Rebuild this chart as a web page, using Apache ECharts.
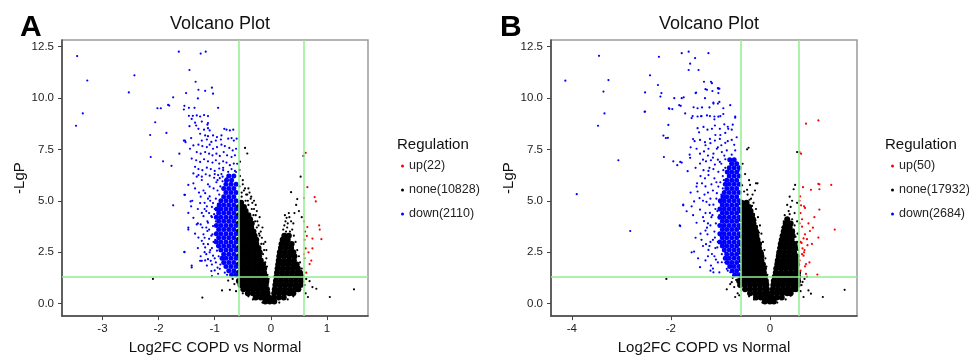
<!DOCTYPE html>
<html><head><meta charset="utf-8">
<script src="https://cdn.jsdelivr.net/npm/echarts@6/dist/echarts.min.js"></script>
<style>html,body{margin:0;padding:0;background:#fff}#c{width:969px;height:360px}</style>
</head><body><div id="c"></div>
<script>
// ---------- tick labels / thresholds ----------
const yTicks = [0, 2.5, 5, 7.5, 10, 12.5];
const xTicksA = [-3, -2, -1, 0, 1];
const xTicksB = [-4, -2, 0];
const fcCut = 0.585;   // log2(1.5)
const pCut = 1.301;    // -log10(0.05)
const namesA = ['up(22)', 'none(10828)', 'down(2110)'];
const namesB = ['up(50)', 'none(17932)', 'down(2684)'];

// ---------- Panel A ----------
const aUp = [[0.62,7.33],[0.65,5.66],[0.59,5.13],[0.78,5.18],[0.80,4.97],[0.86,3.8],[0.65,3.72],[0.59,4.0],[0.87,3.6],[0.90,3.13],[0.74,3.16],[0.62,2.68],[0.74,2.68],[0.67,2.49],[0.72,2.09],[0.69,1.92],[0.64,3.29],[0.60,3.1],[0.59,2.4],[0.61,3.5],[0.60,2.2],[0.63,1.5]];
// dense core of non-significant genes, rows: [y, x1, x2, ...]
const aNoneCoreRows = [
[0.1,-0.10,-0.02,0.06],
[0.3,-0.27,-0.18,-0.09,-0.04,0.05,0.14,0.23],
[0.5,-0.41,-0.32,-0.23,-0.14,-0.06,0.06,0.15,0.24,0.33,0.40],
[0.7,-0.49,-0.40,-0.31,-0.22,-0.13,-0.07,0.07,0.16,0.25,0.34,0.43,0.49],
[0.9,-0.54,-0.45,-0.36,-0.27,-0.18,-0.09,0.08,0.17,0.26,0.35,0.44,0.53],
[1.1,-0.57,-0.48,-0.39,-0.30,-0.21,-0.12,-0.08,0.09,0.18,0.27,0.36,0.45,0.54],
[1.3,-0.53,-0.44,-0.35,-0.26,-0.17,-0.10,0.10,0.19,0.28,0.37,0.46,0.54],
[1.5,-0.57,-0.48,-0.39,-0.30,-0.21,-0.12,0.11,0.20,0.29,0.38,0.47,0.52],
[1.7,-0.53,-0.44,-0.35,-0.26,-0.17,-0.12,0.12,0.21,0.30,0.39,0.48],
[1.9,-0.57,-0.48,-0.39,-0.30,-0.21,-0.14,0.13,0.22,0.31,0.40,0.46],
[2.1,-0.53,-0.44,-0.35,-0.26,-0.18,0.14,0.23,0.32,0.41],
[2.3,-0.57,-0.48,-0.39,-0.30,-0.21,0.15,0.24,0.33,0.42],
[2.5,-0.53,-0.44,-0.35,-0.26,-0.20,0.16,0.25,0.34,0.40],
[2.7,-0.57,-0.48,-0.39,-0.30,-0.22,0.18,0.27,0.36],
[2.9,-0.53,-0.44,-0.35,-0.26,0.19,0.28,0.37],
[3.1,-0.57,-0.48,-0.39,-0.30,-0.26,0.21,0.30],
[3.3,-0.53,-0.44,-0.35,-0.29,0.24,0.32],
[3.5,-0.57,-0.48,-0.39,-0.31],
[3.7,-0.53,-0.44,-0.35],
[3.9,-0.57,-0.48,-0.39,-0.34],
[4.1,-0.53,-0.44,-0.37],
[4.3,-0.57,-0.48,-0.40],
[4.5,-0.53,-0.45],
[4.7,-0.57,-0.48],
[4.9,-0.53]];
const aNone = [[-0.05,1.0],[-0.06,1.4],[-0.04,1.2],[-0.07,1.8],[-0.08,2.2],[-0.10,2.0],[-0.12,2.6],[-0.13,2.9],[-0.16,3.2],[-0.18,3.5],[-0.20,3.3],[-0.22,3.8],[-0.24,4.0],[-0.27,4.3],[-0.30,4.6],[-0.33,4.9],[-0.36,5.1],[-0.42,5.3],[-0.48,5.5],[-0.52,5.2],[-0.45,5.0],[-0.40,4.8],[-0.50,5.8],[-0.55,6.2],[-0.46,5.6],[-0.38,5.4],[-0.30,5.0],[-0.25,4.5],[-0.20,4.2],[-0.15,3.7],[-0.10,3.0],[-0.08,2.6],
[-0.14,2.4],[-0.17,2.9],[-0.21,3.4],[-0.25,3.7],[-0.28,4.0],[-0.31,4.3],[-0.34,4.6],[-0.41,5.0],[-0.44,5.3],[-0.52,5.4],[-0.56,5.7],[-0.35,5.2],[-0.27,4.8],
[-0.46,7.57],[-0.42,7.3],[-0.55,6.9],[-0.40,5.6],[-0.56,6.5],[-0.50,6.0],
[0.28,4.17],[0.25,4.3],[0.33,4.2],[0.30,3.9],[0.36,4.0],[0.22,3.6],[0.24,3.8],[0.38,3.6],[0.41,3.3],[0.44,3.0],[0.47,2.6],[0.50,2.3],[0.52,2.0],[0.55,1.7],[0.57,1.4],[0.20,3.2],[0.17,2.9],[0.15,2.6],[0.13,2.3],[0.11,1.9],[0.09,1.6],
[0.27,3.5],[0.34,3.5],[0.29,3.7],[0.40,3.9],[0.26,4.0],[0.32,4.4],
[0.36,5.42],[0.47,5.08],[0.53,6.17],[0.58,7.18],[0.50,4.5],[0.45,4.8],[0.55,4.2],[0.42,4.4],
[0.69,1.09],[0.66,0.32],[0.81,0.72],[1.05,0.32],[1.48,0.69],[0.74,0.8],[0.62,0.5],[0.60,0.9],[0.63,1.2],
[-2.10,1.2],[-1.22,0.29],[-0.87,0.64],[-0.73,0.67],[-0.76,1.12],[-0.65,0.95],[-0.62,0.6],[-0.68,1.2],
[-0.32,0.2],[-0.40,0.35],[-0.50,0.5],[0.30,0.2],[0.40,0.35],[0.15,0.05],[-0.15,0.05]];
const aDownCoreRows = [
[1.4,-0.62,-0.70],[1.6,-0.66,-0.75],[1.8,-0.62,-0.71,-0.80],[2.0,-0.66,-0.75,-0.84],
[2.2,-0.62,-0.71,-0.80,-0.87],[2.4,-0.66,-0.75,-0.84],[2.6,-0.62,-0.71,-0.80,-0.89],
[2.8,-0.66,-0.75,-0.84,-0.93],[3.0,-0.62,-0.71,-0.80,-0.89,-0.97],[3.2,-0.66,-0.75,-0.84,-0.93],
[3.4,-0.62,-0.71,-0.80,-0.89,-0.97],[3.6,-0.66,-0.75,-0.84,-0.93],[3.8,-0.62,-0.71,-0.80,-0.89,-0.97],
[4.0,-0.66,-0.75,-0.84,-0.93],[4.2,-0.62,-0.71,-0.80,-0.89,-0.97],[4.4,-0.66,-0.75,-0.84,-0.93],
[4.6,-0.62,-0.71,-0.80,-0.89,-0.96],[4.8,-0.66,-0.75,-0.84,-0.92],[5.0,-0.62,-0.71,-0.80,-0.89],
[5.2,-0.66,-0.75,-0.84],[5.4,-0.62,-0.71,-0.80],[5.6,-0.66,-0.75,-0.84],[5.8,-0.62,-0.71,-0.80],
[6.0,-0.70,-0.79],[6.2,-0.66,-0.75]];
const aDown = [[-3.45,12.04],[-3.27,10.85],[-2.43,11.1],[-2.53,10.27],[-1.64,12.25],[-1.25,12.16],[-1.16,12.25],[-1.45,11.36],[-1.34,10.79],[-1.29,10.4],[-1.17,10.35],[-1.05,10.5],[-1.03,10.21],[-1.51,10.24],[-1.74,10.03],[-1.30,9.98],[-1.83,9.66],[-1.81,9.63],[-2.02,9.5],[-1.96,9.5],[-1.54,9.62],[-1.55,9.44],[-1.46,9.52],[-1.36,9.52],[-0.94,9.52],[-3.35,9.25],[-1.46,9.13],[-1.39,9.13],[-1.32,9.15],[-1.26,9.1],[-1.19,9.17],[-1.12,9.12],
[-3.47,8.65],[-2.06,8.82],[-2.15,8.2],[-1.86,8.3],[-2.14,7.13],[-1.92,6.92],[-1.77,6.7],[-1.55,7.93],[-1.52,7.85],[-1.63,7.29],[-1.41,8.98],[-1.35,8.8],[-1.23,8.85],[-1.12,8.78],[-1.47,5.77],[-1.54,5.29],[-1.74,4.78],[-1.47,3.6],[-1.38,4.17],[-1.54,2.5],[-1.41,1.76],[-1.26,2.08],[-1.17,2.1],[-1.05,1.33],[-1.42,8.05],[-1.45,8.63],[-1.33,8.66],[-1.13,8.7],
[-1.29,8.5],[-1.26,8.26],[-1.19,8.46],[-1.12,8.53],[-1.09,8.42],[-0.83,8.5],[-0.79,8.46],[-0.73,8.42],[-0.67,8.46],[-1.17,8.18],[-1.12,8.14],[-1.03,8.18],[-0.96,8.1],[-0.88,8.18],[-0.76,8.02],[-0.70,8.05],[-1.23,7.93],[-1.14,7.98],[-1.06,7.86],[-0.98,7.93],[-0.89,7.98],[-0.66,7.93],[-0.61,8.02],[-1.38,7.69],[-1.29,7.73],[-1.22,7.66],[-1.14,7.61],[-1.09,7.73],[-1.03,7.53],[-0.96,7.61],[-0.88,7.73],[-0.82,7.66],[-0.74,7.57],[-0.68,7.45],[-0.62,7.53],[-1.44,7.53],[-1.53,7.93],[-1.32,7.37],[-1.25,7.29],[-1.17,7.37],[-1.10,7.29],[-1.04,7.21],[-0.97,7.29],[-0.91,7.18],[-0.84,7.37],[-0.78,7.21],[-0.70,7.13],[-0.64,7.21],[-1.41,7.05],[-1.33,6.97],[-1.26,6.89],[-1.19,7.02],[-1.12,6.92],[-1.04,6.86],[-0.98,6.97],[-0.92,6.81],[-0.85,6.92],[-0.79,6.86],[-0.73,6.73],[-0.66,6.81],[-1.35,6.65],[-1.29,6.54],[-1.22,6.49],[-1.14,6.61],[-1.07,6.54],[-1.00,6.45],[-0.92,6.57],[-0.85,6.49],[-0.76,6.41],[-0.70,6.54],[-0.64,6.45],[-1.38,6.33],[-1.29,6.25],[-1.23,6.17],[-1.16,6.29],[-1.09,6.22],[-1.01,6.12],[-0.94,6.25],[-0.86,6.17],[-0.79,6.09],[-0.73,6.25],[-0.67,6.17],
[-1.53,5.29],[-1.43,4.97],[-1.42,4.73],[-1.47,4.41],[-1.47,3.69],[-1.32,3.85],[-1.25,3.85],[-1.23,4.41],[-1.20,4.25],[-1.14,4.73],[-1.29,3.21],[-1.23,3.05],[-1.17,2.73],[-1.12,2.89],[-1.09,2.49],[-1.23,2.08],[-1.14,1.85],[-1.06,1.58],[-1.00,1.61],[-0.94,1.45],[-0.91,1.69],[-1.41,1.85],[-1.54,2.52],[-1.20,3.37],[-1.13,3.53],[-1.04,3.37],[-1.07,2.08],[-0.98,2.0],[-1.03,2.33],[-1.12,2.16],[-1.32,6.17],[-1.38,5.85],[-1.23,6.01],[-1.09,5.69],[-1.17,5.37],[-1.26,4.89],[-1.09,5.21],[-1.03,4.89],[-1.06,4.25],[-1.12,3.93],[-1.03,3.77],[-0.97,3.45],[-1.00,2.97],[-0.96,2.57],
[-0.97,5.9],[-0.95,5.5],[-0.98,5.1],[-1.00,4.6],[-0.98,4.0],[-0.99,3.1],[-0.96,2.8],[-0.93,2.3],[-0.90,1.9],[-0.82,1.5],[-0.78,1.4],[-0.88,6.3],[-0.85,6.6],[-0.60,6.8],[-0.62,6.4],[-0.95,6.0],
[-1.02,5.6],[-1.08,5.0],[-1.15,4.5],[-1.05,4.2],[-1.10,3.6],[-1.18,3.2],[-1.02,3.0],[-1.08,2.6],[-1.15,2.4],[-1.00,2.2],[-1.05,1.9],[-0.95,1.75],[-1.12,5.8],[-1.20,5.5],[-1.00,6.3],[-1.05,4.7],[-1.13,4.0],[-1.06,3.3],[-1.22,3.7],[-1.18,4.9],[-1.25,5.2],[-1.30,4.6],[-1.35,3.4],[-1.30,2.7],
[-0.92,5.3],[-0.94,4.85],[-1.01,4.35],[-0.90,5.7],[-0.86,5.95],[-0.91,6.1],
[-1.12,5.1],[-1.18,4.6],[-1.10,4.4],[-1.15,3.7],[-1.10,3.15],[-1.20,2.9],[-1.05,2.7],[-1.18,2.5],[-1.25,2.3],[-1.30,3.9],[-1.40,5.0],[-1.35,5.6],[-1.28,5.4]];

// ---------- Panel B ----------
const bUp = [[0.73,8.75],[0.98,8.91],[0.63,7.29],[0.60,7.37],[1.00,5.8],[1.00,5.56],[1.24,5.77],[0.83,5.53],[0.61,5.21],[1.00,4.57],[0.63,4.78],[1.31,3.6],[0.87,3.69],[0.81,3.53],[0.67,5.66],[0.98,5.82],[0.69,4.73],[0.71,4.65],[0.65,3.74],[0.71,3.37],[0.98,3.21],[0.68,3.17],[0.75,3.13],[0.76,2.84],[0.66,2.68],[0.69,2.49],[0.65,2.4],[0.68,2.33],[0.73,1.92],[0.71,1.81],[0.73,1.44],[0.96,1.41],[0.64,2.95],[0.65,4.1],[0.60,3.9],[0.62,3.0],[0.60,2.1],[0.62,1.6],[0.70,2.6],[0.80,2.0],[0.90,4.2],[0.60,5.0],[0.62,4.4],[0.78,3.9],[0.85,2.9]];
const bNoneCoreRows = [
[0.1,-0.10,0.0,0.08],
[0.3,-0.28,-0.18,-0.08,-0.03,0.04,0.14,0.24],
[0.5,-0.40,-0.30,-0.20,-0.10,-0.05,0.05,0.15,0.25,0.35,0.42],
[0.7,-0.50,-0.40,-0.30,-0.20,-0.10,-0.06,0.06,0.16,0.26,0.36,0.46,0.52],
[0.9,-0.60,-0.50,-0.40,-0.30,-0.20,-0.10,-0.07,0.07,0.17,0.27,0.37,0.47,0.56],
[1.1,-0.62,-0.52,-0.42,-0.32,-0.22,-0.12,-0.08,0.08,0.18,0.28,0.38,0.48,0.57],
[1.3,-0.57,-0.47,-0.37,-0.27,-0.17,-0.10,0.10,0.20,0.30,0.40,0.50,0.57],
[1.5,-0.52,-0.42,-0.32,-0.22,-0.12,0.12,0.22,0.32,0.42,0.52,0.57],
[1.7,-0.57,-0.47,-0.37,-0.27,-0.17,-0.12,0.13,0.23,0.33,0.43,0.53],
[1.9,-0.52,-0.42,-0.32,-0.22,-0.14,0.15,0.25,0.35,0.45,0.55],
[2.1,-0.57,-0.47,-0.37,-0.27,-0.17,0.16,0.26,0.36,0.46,0.54],
[2.3,-0.52,-0.42,-0.32,-0.22,-0.17,0.18,0.28,0.38,0.48,0.54],
[2.5,-0.57,-0.47,-0.37,-0.27,-0.19,0.19,0.29,0.39,0.49],
[2.7,-0.52,-0.42,-0.32,-0.22,0.21,0.31,0.41,0.51],
[2.9,-0.57,-0.47,-0.37,-0.27,-0.22,0.22,0.32,0.42,0.50],
[3.1,-0.52,-0.42,-0.32,-0.25,0.24,0.34,0.44],
[3.3,-0.57,-0.47,-0.37,-0.27,0.26,0.36,0.46],
[3.5,-0.52,-0.42,-0.32,-0.28,0.28,0.38,0.45],
[3.7,-0.57,-0.47,-0.37,-0.30,0.30,0.40],
[3.9,-0.52,-0.42,-0.33,0.32,0.42],
[4.1,-0.57,-0.47,-0.37,-0.34,0.35],
[4.3,-0.52,-0.42,-0.36],
[4.5,-0.57,-0.47,-0.39],
[4.7,-0.52,-0.42],
[4.9,-0.57,-0.47]];
const bNone = [[-0.25,5.85],[-0.40,5.77],[-0.46,5.53],[-0.46,7.5],[-0.43,7.58],[-0.28,5.85],[-0.35,5.3],[-0.50,6.3],[-0.55,6.8],[-0.42,6.0],[-0.30,5.5],[-0.38,5.1],[-0.33,4.9],[-0.28,4.6],[-0.24,4.2],[-0.20,3.8],[-0.17,3.4],[-0.14,3.0],[-0.11,2.6],[-0.09,2.2],[-0.07,1.8],[-0.05,1.4],[-0.04,1.0],
[-0.14,2.45],[-0.18,2.95],[-0.22,3.45],[-0.26,3.75],[-0.29,4.05],[-0.32,4.35],[-0.36,4.75],[-0.41,5.05],[-0.45,5.3],[-0.52,5.45],[-0.56,5.75],
[0.51,5.77],[0.48,5.56],[0.55,7.37],[0.40,5.2],[0.45,5.0],[0.35,4.8],[0.42,4.7],[0.50,4.4],[0.55,4.9],[0.38,4.5],[0.30,4.3],[0.28,4.0],[0.25,3.7],[0.22,3.3],[0.20,3.0],[0.17,2.7],[0.15,2.4],[0.12,2.0],[0.10,1.7],[0.55,4.0],[0.50,3.8],[0.56,3.4],[0.55,3.0],[0.57,2.6],
[0.34,4.1],[0.45,4.1],[0.40,4.35],[0.48,3.6],[0.52,3.25],[0.54,2.8],
[-2.09,1.2],[-0.87,0.69],[-0.70,0.32],[-0.77,1.04],[-0.80,0.95],[-0.72,0.8],[-0.65,0.5],[-0.68,1.15],[-0.75,1.25],[-0.62,0.4],
[0.78,0.64],[0.83,0.48],[1.07,0.32],[1.51,0.67],[0.68,0.32],[0.70,1.2],[0.75,1.3],[0.64,0.9],[0.62,0.6],[0.66,1.05],
[-0.32,0.2],[-0.42,0.35],[0.32,0.2],[0.42,0.38],[0.15,0.05],[-0.15,0.05]];
const bDownCoreRows = [
[1.4,-0.62,-0.71],[1.6,-0.67,-0.76],[1.8,-0.62,-0.72,-0.81],[2.0,-0.67,-0.77,-0.86],
[2.2,-0.62,-0.72,-0.82,-0.90],[2.4,-0.67,-0.77,-0.87],[2.6,-0.62,-0.72,-0.82,-0.92],
[2.8,-0.67,-0.77,-0.87,-0.96],[3.0,-0.62,-0.72,-0.82,-0.92,-1.01],[3.2,-0.67,-0.77,-0.87,-0.96],
[3.4,-0.62,-0.72,-0.82,-0.92,-1.01],[3.6,-0.67,-0.77,-0.87,-0.96],[3.8,-0.62,-0.72,-0.82,-0.92,-1.01],
[4.0,-0.67,-0.77,-0.87,-0.96],[4.2,-0.62,-0.72,-0.82,-0.92,-1.01],[4.4,-0.67,-0.77,-0.87,-0.96],
[4.6,-0.62,-0.72,-0.82,-0.92,-1.01],[4.8,-0.67,-0.77,-0.87,-0.96],[5.0,-0.62,-0.72,-0.82,-0.92,-1.0],
[5.2,-0.67,-0.77,-0.87,-0.95],[5.4,-0.62,-0.72,-0.82,-0.92],[5.6,-0.67,-0.77,-0.87],
[5.8,-0.62,-0.72,-0.82,-0.9],[6.0,-0.67,-0.77,-0.87],[6.2,-0.62,-0.72,-0.82],[6.4,-0.67,-0.77,-0.86],
[6.6,-0.62,-0.72,-0.82],[6.8,-0.67,-0.77],[7.0,-0.72,-0.81]];
const bDown = [[-4.13,10.84],[-3.45,12.05],[-3.26,10.87],[-3.36,10.31],[-3.34,9.25],[-2.24,12.0],[-2.42,11.1],[-2.52,10.27],[-2.53,9.33],[-2.26,10.63],[-2.19,10.24],[-2.21,10.07],[-1.93,9.99],[-1.74,10.03],[-1.78,12.18],[-1.64,12.25],[-1.24,12.18],[-1.51,11.94],[-1.61,11.67],[-1.64,11.36],[-1.44,11.36],[-1.33,10.79],[-1.19,10.79],[-1.17,10.72],[-1.50,10.24],[-1.30,10.43],[-1.27,10.4],[-1.05,10.48],[-1.02,10.45],[-1.04,10.24],[-1.31,9.99],[-1.14,9.73],[-1.05,9.73],[-1.02,9.81],[-1.83,9.65],[-1.80,9.62],[-2.04,9.5],[-1.97,9.46],[-1.54,9.55],[-1.46,9.5],[-1.37,9.54],[-1.22,9.54],[-0.94,9.5],[-0.80,9.65],[-1.71,9.25],[-1.56,9.12],[-1.46,9.1],[-1.38,9.12],[-1.27,9.15],[-1.21,9.12],[-1.12,9.1],[-1.00,9.12],[-0.70,9.1],
[-3.47,8.65],[-3.06,6.97],[-3.90,5.32],[-2.82,3.53],[-2.15,8.17],[-2.10,8.05],[-2.05,8.69],[-2.14,7.13],[-1.95,6.92],[-1.81,6.89],[-1.66,6.44],[-1.47,5.85],[-1.75,4.78],[-1.81,3.77],
[-1.78,9.99],[-2.03,9.47],[-1.58,9.02],[-1.39,9.11],[-1.12,8.96],[-1.04,9.09],[-0.94,9.22],[-0.70,9.04],[-1.16,10.34],[-1.04,10.45],[-1.14,9.78],[-1.49,10.26],[-2.52,9.34],
[-1.46,8.53],[-1.43,8.33],[-1.34,8.59],[-1.26,8.46],[-1.17,8.5],[-1.11,8.66],[-1.01,8.5],[-0.92,8.72],[-0.84,8.5],[-0.77,8.46],[-0.67,8.09],[-2.06,8.06],[-1.52,7.9],[-1.41,7.96],[-1.31,7.85],[-1.21,8.01],[-1.11,7.93],[-1.01,8.01],[-0.90,7.82],[-0.77,7.96],[-0.72,7.72],[-1.87,6.73],[-1.78,6.86],[-1.62,7.24],[-1.61,7.09],[-1.48,7.53],[-1.41,7.29],[-1.33,7.4],[-1.24,7.53],[-1.14,7.29],[-1.07,7.53],[-0.97,7.37],[-0.87,7.45],[-0.77,7.24],[-0.70,7.45],[-1.41,6.81],[-1.29,6.92],[-1.19,6.97],[-1.11,6.76],[-1.01,6.89],[-0.90,7.02],[-0.80,6.81],[-0.70,6.92],[-1.34,6.49],[-1.24,6.45],[-1.14,6.54],[-1.04,6.41],[-0.94,6.49],[-0.84,6.45],[-0.74,6.57],[-0.63,6.45],
[-1.82,3.8],[-1.75,4.81],[-1.68,4.49],[-1.58,4.73],[-1.53,4.97],[-1.42,5.13],[-1.48,5.69],[-1.46,5.45],[-1.37,5.85],[-1.31,6.09],[-1.24,6.25],[-1.41,4.57],[-1.48,3.93],[-1.33,4.01],[-1.27,3.69],[-1.26,3.37],[-1.29,2.89],[-1.58,2.49],[-1.53,2.53],[-1.41,1.77],[-1.24,2.61],[-1.17,2.41],[-1.19,1.85],[-1.14,1.52],[-1.09,2.14],[-1.11,3.21],[-1.06,2.73],[-1.21,4.41],[-1.14,4.81],[-1.07,5.37],[-1.04,5.69],[-1.12,6.09],[-1.01,4.25],[-0.97,3.45],[-0.90,2.49],[-0.87,1.69],[-0.97,2.01],[-1.02,1.52],[-0.92,2.81],[-0.84,2.25],[-0.80,1.52],[-0.74,1.37],[-0.77,1.85],
[-1.00,5.9],[-0.98,5.3],[-1.00,4.9],[-1.02,4.3],[-1.00,3.8],[-1.00,3.3],[-0.98,2.9],[-0.97,2.4],[-0.90,2.0],[-0.85,1.6],[-0.92,7.2],[-0.90,6.6],[-0.95,6.2],[-1.05,7.0],
[-1.08,5.9],[-1.15,5.5],[-1.20,5.1],[-1.10,4.6],[-1.18,4.2],[-1.25,3.9],[-1.12,3.5],[-1.20,3.0],[-1.10,2.7],[-1.25,2.3],[-1.05,2.0],[-1.15,1.7],[-1.30,5.7],[-1.35,5.0],[-1.30,4.4],[-1.40,3.4],[-1.35,2.8],[-1.22,6.6],[-1.15,7.1],[-1.30,7.7],[-1.10,8.2],[-0.98,7.7],[-0.85,7.9],[-0.90,8.3],
[-1.08,5.1],[-1.06,4.5],[-1.09,3.9],[-1.05,3.0],[-0.95,5.6],[-0.93,6.0],[-0.98,6.8],
[-1.18,5.8],[-1.25,5.4],[-1.32,5.3],[-1.22,4.8],[-1.28,4.95],[-1.16,4.3],[-1.35,4.2],[-1.20,3.8],[-1.30,3.55],[-1.15,3.1],[-1.38,3.1],[-1.22,2.8],[-1.12,2.3],[-1.30,2.1],[-1.20,1.6],[-1.45,2.2],[-1.50,3.2],[-1.55,4.3],[-1.60,5.4],[-1.40,6.2],[-1.50,6.6],[-1.25,7.2],[-1.35,7.0],[-1.20,7.8],[-1.05,7.6],[-1.00,8.2],[-0.85,8.6],[-0.75,8.7],[-1.55,8.0],[-1.60,7.6]];

// ---------- build ----------
function expandRows(rows) {
  const out = [];
  rows.forEach(r => { for (let i = 1; i < r.length; i++) out.push([r[i], r[0]]); });
  return out;
}
const FONT = "'Liberation Sans', Arial, sans-serif";
const GREEN = '#90EE90';
const RED = '#ff0000', BLACK = '#000000', BLUE = '#0000ff';

function axes(idx, min, max, ticks) {
  const x = {
    type: 'value', gridIndex: idx, min: min, max: max,
    name: 'Log2FC COPD vs Normal', nameLocation: 'middle', nameGap: 22,
    nameTextStyle: { fontFamily: FONT, fontSize: 15, color: '#111' },
    axisLine: { show: true, onZero: false, lineStyle: { color: '#444', width: 1.5 } },
    axisTick: { show: true, length: 4, customValues: ticks, lineStyle: { color: '#444' } },
    axisLabel: { customValues: ticks, margin: 7, fontFamily: FONT, fontSize: 11.5, color: '#222' },
    splitLine: { show: false }
  };
  const y = {
    type: 'value', gridIndex: idx, min: -0.61, max: 12.82,
    name: '-LgP', nameLocation: 'middle', nameGap: 33,
    nameTextStyle: { fontFamily: FONT, fontSize: 15, color: '#111' },
    axisLine: { show: true, onZero: false, lineStyle: { color: '#444', width: 1.5 } },
    axisTick: { show: true, length: 4, customValues: yTicks, lineStyle: { color: '#444' } },
    axisLabel: { customValues: yTicks, margin: 8, fontFamily: FONT, fontSize: 11.5, color: '#222',
      formatter: v => Number(v).toFixed(1) },
    splitLine: { show: false }
  };
  return [x, y];
}
function panelSeries(idx, names, up, noneCore, none, downCore, down) {
  const base = { type: 'scatter', xAxisIndex: idx, yAxisIndex: idx, symbol: 'circle', silent: true, animation: false };
  return [
    Object.assign({}, base, { name: names[1], data: expandRows(noneCore), symbolSize: 6, itemStyle: { color: BLACK, opacity: 1 } }),
    Object.assign({}, base, { name: names[1], data: none, symbolSize: 2.2, itemStyle: { color: BLACK, opacity: 1 } }),
    Object.assign({}, base, { name: names[2], data: expandRows(downCore), symbolSize: 5, itemStyle: { color: BLUE, opacity: 1 } }),
    Object.assign({}, base, { name: names[2], data: down, symbolSize: 2.2, itemStyle: { color: BLUE, opacity: 1 } }),
    Object.assign({}, base, { name: names[0], data: up, symbolSize: 2.2, itemStyle: { color: RED, opacity: 1 } }),
    Object.assign({}, base, { name: 'cut' + idx, data: [], z: 5,
      markLine: { silent: true, symbol: 'none', animation: false,
        label: { show: false }, lineStyle: { color: GREEN, width: 1.5, type: 'solid', opacity: 1 },
        data: [{ xAxis: -fcCut }, { xAxis: fcCut }, { yAxis: pCut }] } })
  ];
}
const axA = axes(0, -3.72, 1.73, xTicksA);
const axB = axes(1, -4.42, 1.76, xTicksB);

const legendBase = { orient: 'vertical', icon: 'circle', itemWidth: 3, itemHeight: 3, itemGap: 10, padding: 0,
  textStyle: { fontFamily: FONT, fontSize: 12.5, color: '#222', lineHeight: 14 }, selectedMode: false };

const chart = echarts.init(document.getElementById('c'), null, { renderer: 'canvas' });
chart.setOption({
  backgroundColor: '#ffffff',
  animation: false,
  title: [
    { text: 'Volcano Plot', left: 165, top: 10, textStyle: { fontFamily: FONT, fontSize: 18, fontWeight: 'normal', color: '#111' } },
    { text: 'Volcano Plot', left: 654, top: 10, textStyle: { fontFamily: FONT, fontSize: 18, fontWeight: 'normal', color: '#111' } },
    { text: 'A', left: 15, top: 8, textStyle: { fontFamily: FONT, fontSize: 30, fontWeight: 900, color: '#000' } },
    { text: 'B', left: 495, top: 8, textStyle: { fontFamily: FONT, fontSize: 30, fontWeight: 900, color: '#000' } },
    { text: 'Regulation', left: 392, top: 132, textStyle: { fontFamily: FONT, fontSize: 15, fontWeight: 'normal', color: '#111' } },
    { text: 'Regulation', left: 880, top: 132, textStyle: { fontFamily: FONT, fontSize: 15, fontWeight: 'normal', color: '#111' } }
  ],
  legend: [
    Object.assign({}, legendBase, { left: 401, top: 159, data: namesA }),
    Object.assign({}, legendBase, { left: 891, top: 159, data: namesB })
  ],
  grid: [
    { left: 62, top: 40, width: 306, height: 279, show: true, borderColor: '#9a9a9a', borderWidth: 1.5, backgroundColor: '#fff' },
    { left: 551, top: 40, width: 306, height: 279, show: true, borderColor: '#9a9a9a', borderWidth: 1.5, backgroundColor: '#fff' }
  ],
  xAxis: [axA[0], axB[0]],
  yAxis: [axA[1], axB[1]],
  series: [].concat(
    panelSeries(0, namesA, aUp, aNoneCoreRows, aNone, aDownCoreRows, aDown),
    panelSeries(1, namesB, bUp, bNoneCoreRows, bNone, bDownCoreRows, bDown)
  )
});
</script>
</body></html>
